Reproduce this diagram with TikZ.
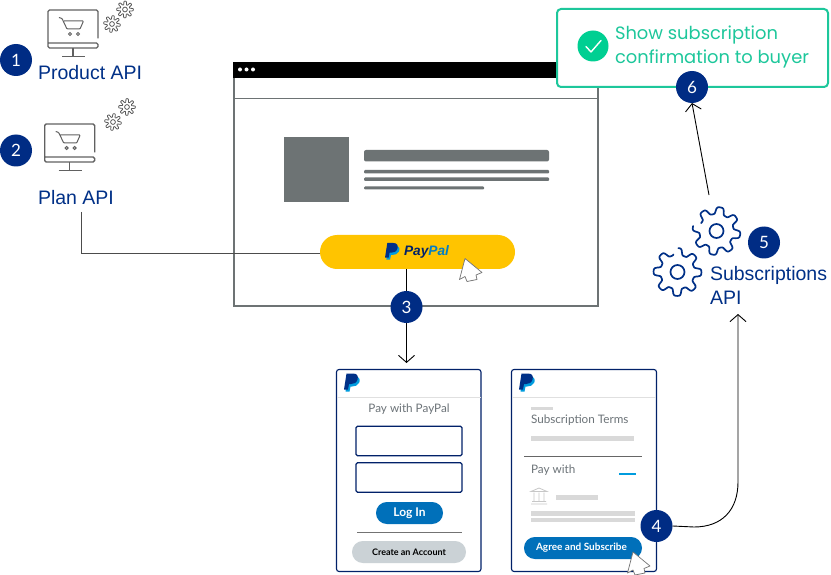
\documentclass[tikz,border=0pt]{standalone}
\usepackage{fontspec}
\setmainfont{Lato}
\newfontfamily\arialf{Liberation Sans}
\newfontfamily\greenf{Poppins}
\usetikzlibrary{arrows.meta}
\definecolor{navy}{HTML}{003087}
\definecolor{deepnavy}{HTML}{012169}
\definecolor{badgenavy}{HTML}{002C84}
\definecolor{browsergray}{HTML}{6D7374}
\definecolor{ppblue}{HTML}{0070BA}
\definecolor{ppsky}{HTML}{009CDE}
\definecolor{mint}{HTML}{1DC79B}
\definecolor{mintfill}{HTML}{00CF92}
\definecolor{barlight}{HTML}{D9D9D9}
\definecolor{btngray}{HTML}{CBD2D6}
\definecolor{yellowbtn}{HTML}{FFC400}
\definecolor{textgray}{HTML}{6C7378}
\newcommand{\gearshape}[9]{% x y R a hub phase start span style
  \draw[#9] plot[domain=#7:#7+#8,samples=160,variable=\t]
    ({#1+(#3+#4*tanh(2.2*sin(8*(\t+#6))))*cos(\t)},{#2+(#3+#4*tanh(2.2*sin(8*(\t+#6))))*sin(\t)});
  \draw[#9] (#1,#2) circle (#5);
}
\tikzset{
  every node/.style={inner sep=0pt,outer sep=0pt},
  badge/.style={circle,fill=badgenavy,draw=none,minimum size=32pt,text=white,font=\fontsize{17}{17}\selectfont},
  apilabel/.style={anchor=west,text=navy,font=\arialf\fontsize{19.5}{19.5}\selectfont},
  screenbox/.style={draw=deepnavy,line width=1.1pt,fill=white,rounded corners=2.5pt,minimum width=#1,minimum height=202pt},
  inputbox/.style={draw=deepnavy,line width=1.1pt,rounded corners=1.5pt,minimum width=106pt,minimum height=29.5pt},
  pill/.style={rounded corners=10.9pt,minimum height=22pt},
  bluepill/.style={pill,fill=ppblue,text=white,font=\bfseries\fontsize{12}{12}\selectfont},
  ppline/.style={fill=browsergray,rounded corners=1pt},
  uitext/.style={text=textgray,font=\fontsize{11.7}{12}\selectfont},
  conn/.style={draw=black,line width=0.9pt},
  connarrow/.style={conn,-{Straight Barb[length=7pt,width=16pt]}},
  cursorshape/.style={draw=black!55,fill=white,line width=0.7pt,line join=round},
  monline/.style={draw=black!62,line width=1.35pt},
  smallgear/.style={draw=black!65,line width=0.8pt,line join=round},
  biggear/.style={draw=navy,line width=1.7pt,line join=round,line cap=round},
  pplogo/.pic={
    \fill[ppsky] (3.5,3) -- (11,3) .. controls (16,3) and (16.5,7) .. (15,9.5) .. controls (13.5,12) and (11,13) .. (8,13) -- (6.5,13) -- (5.5,18) -- (1.5,18) -- cycle;
    \fill[navy] (2.5,0) -- (9,0) .. controls (13.5,0) and (14.5,3) .. (13.5,6) .. controls (12.5,9.5) and (10,10.5) .. (7,10.5) -- (5,10.5) -- (4,16) -- (0,16) -- cycle;
  },
  monitor/.pic={
    \draw[monline,rounded corners=1.5pt] (50,38.5) -- (50,10) -- (0,10) -- (0,48) -- (50,48) -- (50,43) -- (0,43);
    \draw[monline] (25,48) -- (25,56) (14,56.5) -- (37,56.5);
    \draw[monline,line width=1pt,rounded corners=0.8pt] (11,17.5) -- (14,18.5) -- (19,29) -- (32,29) -- (35.5,21) -- (16,21);
    \draw[monline,line width=1pt] (22,34) circle (1.5) (30,34) circle (1.5);
  },
  cursorpic/.pic={
    \draw[cursorshape] (0,0) -- (17,14) -- (11,16.5) -- (12,21) -- (2,23) -- (0,18) -- (-5.5,21) -- cycle;
  }
}
\begin{document}
\begin{tikzpicture}[x=1pt,y=-1pt]
\useasboundingbox (0,0) rectangle (831,575);
\fill[white] (0,0) rectangle (831,575);

% Browser window
\node[draw=browsergray,line width=2pt,minimum width=364pt,minimum height=243pt,fill=white] (browser) at (416,184.5) {};
\fill[black] (233,62) rectangle (570,78);
\foreach \dx in {240,246.5,253}{\fill[white] (\dx,69.5) circle (2);}
\draw[browsergray,line width=1pt] (234,98.5) -- (598,98.5);
\fill[browsergray] (284,137) rectangle (349,202);
\fill[ppline,rounded corners=2pt] (364,150) rectangle (549,161.5);
\fill[ppline] (364,170) rectangle (549,173.5);
\fill[ppline] (364,177.5) rectangle (549,181);
\fill[ppline] (364,186.5) rectangle (484,189.5);

% PayPal button
\node[fill=yellowbtn,rounded corners=17pt,minimum width=195pt,minimum height=34pt] (paybtn) at (417.5,252) {};
\pic[scale=0.92] at (385,243) {pplogo};
\node[anchor=west,font=\arialf\bfseries\itshape\fontsize{13.7}{13.7}\selectfont] (paytext) at (404,252) {\textcolor{deepnavy}{Pay}\textcolor{ppblue!70!ppsky}{Pal}};
\pic at (465,258.5) {cursorpic};

% Green box
\node[draw=mint,line width=2pt,fill=white,rounded corners=4pt,minimum width=271pt,minimum height=78pt] (confirm) at (692.5,48) {};
\node[circle,fill=mintfill,minimum size=31pt] (check) at (593,46) {};
\draw[white,line width=1.4pt,line cap=round,line join=round] (586,46.5) -- (591,52) -- (601,40.5);
\node[anchor=west,align=left,text=mint,font=\greenf\fontsize{17.9}{24}\selectfont] (confirmtext) at (615,46.5) {Show subscription\\confirmation to buyer};

% API labels and icons
\pic at (48,0) {monitor};
\gearshape{112}{24}{6.6}{1.8}{2.4}{3}{0}{360}{smallgear}
\gearshape{125}{9.5}{6.6}{1.8}{2.4}{10}{0}{360}{smallgear}
\pic at (44.7,114) {monitor};
\gearshape{113}{122}{6.6}{1.8}{2.4}{3}{0}{360}{smallgear}
\gearshape{127}{107}{6.6}{1.8}{2.4}{10}{0}{360}{smallgear}
\gearshape{716.5}{231}{20.5}{3.5}{7}{2}{207}{345}{biggear}
\gearshape{677.5}{272}{20.5}{3.5}{7}{10}{272}{345}{biggear}
\node[apilabel] (product) at (38,72.5) {Product API};
\node[apilabel] (plan) at (38,198) {Plan API};
\node[apilabel,align=left,font=\arialf\fontsize{19.5}{24}\selectfont] (subs) at (710,285) {Subscriptions\\API};

% Screens
\node[screenbox=144.5pt] (screenA) at (408.75,470.5) {};
\node[screenbox=145pt] (screenB) at (584,470.5) {};
\draw[black!12,line width=0.8pt] (337,397.5) -- (481,397.5) (512,397.5) -- (656,397.5);
\pic at (344,373.5) {pplogo};
\pic at (519,373.5) {pplogo};
\node[uitext] (paywithpp) at (409,409.5) {Pay with PayPal};
\node[inputbox] (inputA) at (409,441) {};
\node[inputbox] (inputB) at (409,477.5) {};
\node[bluepill,minimum width=67pt] (login) at (409.5,513) {Log In};
\draw[black!55,line width=0.8pt] (357,532.5) -- (462,532.5);
\node[pill,fill=btngray,minimum width=114pt,font=\bfseries\fontsize{9}{9}\selectfont] (create) at (409,552) {Create an Account};

\fill[barlight] (531,407) rectangle (553,410);
\node[uitext,anchor=west] (terms) at (531,420.5) {Subscription Terms};
\fill[barlight] (531,436) rectangle (634,441);
\draw[black!60,line width=0.8pt] (524,456.5) -- (642,456.5);
\node[uitext,anchor=west] (paywith) at (531,470.5) {Pay with};
\fill[ppsky] (619,473) rectangle (636,475);
\draw[black!22,line width=0.8pt] (531,504) -- (547,504) (532,501.5) -- (546,501.5) (531,491.5) -- (539,488) -- (547,491.5) -- cycle (534,492.5) -- (534,501) (539,492.5) -- (539,501) (544,492.5) -- (544,501);
\fill[barlight] (556,495) rectangle (598,500);
\fill[barlight] (531,511) rectangle (635,516);
\fill[barlight] (531,518) rectangle (635,522);
\node[bluepill,minimum width=118pt,font=\bfseries\fontsize{10}{10}\selectfont] (agree) at (583,548) {\hspace{-3pt}Agree and Subscribe};
\pic at (633,552) {cursorpic};

% Badges
\node[badge] (b1) at (16,60) {1};
\node[badge] (b2) at (16,150.5) {2};
\node[badge] (b3) at (406.5,307) {3};
\node[badge] (b4) at (656.5,526) {4};
\node[badge] (b5) at (764,242.5) {5};
\node[badge] (b6) at (692,87) {6};

% Connector anchors
\coordinate (planstart) at (81,212);
\coordinate (planbend) at (81,253);
\coordinate (threeend) at (406.5,363);
\coordinate (fourrun) at (694,527);
\coordinate (fourctrlA) at (722,527);
\coordinate (fourctrlB) at (738,510);
\coordinate (fourup) at (738,482);
\coordinate (subsend) at (738,314);
\coordinate (subsstart) at (709,195);

\draw[draw=black!70,line width=0.9pt] (planstart) -- (planbend) -- (paybtn.west |- planbend);
\draw[conn] (paybtn.south -| b3) -- (b3.north);
\draw[connarrow] (b3.south) -- (threeend);
\draw[connarrow] (b4.east) -- (fourrun) .. controls (fourctrlA) and (fourctrlB) .. (fourup) -- (subsend);
\draw[connarrow] (subsstart) -- (b6.south);
\end{tikzpicture}
\end{document}
